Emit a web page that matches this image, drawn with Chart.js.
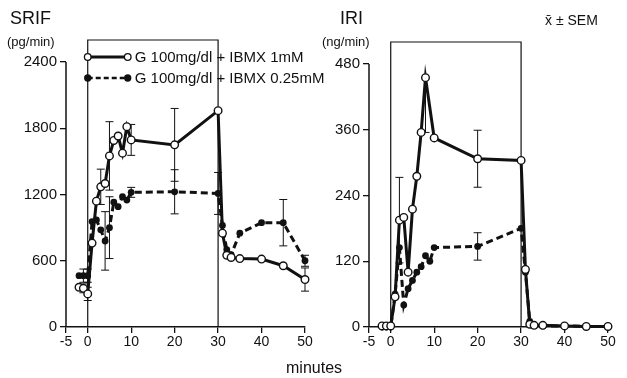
<!DOCTYPE html>
<html>
<head>
<meta charset="utf-8">
<script src="https://cdn.jsdelivr.net/npm/chart.js@4"></script>
<style>
  body { margin: 0; background: #fff; width: 627px; height: 378px; position: relative; overflow: hidden; font-family: "Liberation Sans", Arial, sans-serif; color: #111; }
  canvas { position: absolute; top: 0; }
  .lbl { position: absolute; white-space: nowrap; }
</style>
</head>
<body>
<canvas id="iriChart" width="315" height="378" style="left:312px"></canvas>
<canvas id="srifChart" width="340" height="378" style="left:0"></canvas>
<div class="lbl" style="left:10px;top:8px;font-size:18px">SRIF</div>
<div class="lbl" style="left:7px;top:34px;font-size:13px">(pg/min)</div>
<div class="lbl" style="left:340px;top:8px;font-size:18px">IRI</div>
<div class="lbl" style="left:322px;top:34px;font-size:13px">(ng/min)</div>
<div class="lbl" style="left:545px;top:12px;font-size:14px">x̄ ± SEM</div>
<div class="lbl" style="left:286px;top:359px;font-size:16px">minutes</div>
<script>
// x axis (minutes)
const xTicks = [-5, 0, 10, 20, 30, 40, 50];
const boxMinutes = [0, 30];

// SRIF (pg/min)
const srifTicks = [0, 600, 1200, 1800, 2400];
const srifTimes = [-2, -1, 0, 1, 2, 3, 4, 5, 6, 7, 8, 9, 10, 20, 30, 31, 32, 33, 35, 40, 45, 50];
const srifOpen = [360, 350, 300, 760, 1140, 1270, 1300, 1550, 1690, 1730, 1575, 1815, 1695, 1650, 1960, 850, 650, 630, 620, 615, 555, 430];
const srifOpenErr = [0, 40, 60, 0, 0, 160, 0, 310, 0, 0, 0, 0, 140, 330, 0, 0, 0, 0, 0, 0, 0, 105];
const srifFilled = [465, 465, 465, 955, 970, 880, 780, 900, 1130, 1090, 1180, 1150, 1220, 1225, 1210, 920, 700, 655, 850, 945, 945, 600];
const srifFilledErr = [0, 60, 60, 0, 0, 0, 265, 280, 0, 0, 0, 0, 45, 200, 190, 0, 0, 0, 0, 0, 210, 50];

// IRI (ng/min)
const iriTicks = [0, 120, 240, 360, 480];
const iriOpenTimes = [-2, -1, 0, 1, 2, 3, 4, 5, 6, 7, 8, 10, 20, 30, 31, 32, 33, 35, 40, 45, 50];
const iriOpen = [2, 2, 2, 55, 195, 200, 100, 215, 275, 355, 455, 345, 307, 304, 105, 5, 3, 3, 2, 1, 1];
const iriOpenErrHigh = [0, 0, 0, 0, 78, 0, 0, 0, 0, 0, 0, 0, 52, 0, 0, 0, 0, 0, 0, 0, 0];
const iriOpenErrLow = [0, 0, 0, 0, 78, 0, 0, 0, 0, 0, 100, 0, 52, 0, 0, 0, 0, 0, 0, 0, 0];
const iriFilledTimes = [-2, -1, 0, 1, 2, 3, 4, 5, 6, 7, 8, 9, 10, 20, 30, 31, 32, 33, 35, 40, 45, 50];
const iriFilled = [0, 0, 0, 60, 145, 40, 70, 85, 100, 110, 130, 120, 145, 147, 180, 100, 10, 3, 2, 2, 1, 1];
const iriFilledErr = [0, 0, 0, 0, 0, 0, 0, 0, 0, 0, 0, 0, 0, 25, 0, 0, 0, 0, 0, 0, 0, 0];

const legendLabels = ["G 100mg/dl + IBMX 1mM", "G 100mg/dl + IBMX 0.25mM"];

const INK = "#111";

function pts(times, vals) {
  return times.map((t, i) => ({ x: t, y: vals[i] }));
}

function openSeries(times, vals, errHigh, errLow) {
  return {
    data: pts(times, vals),
    errHigh,
    errLow: errLow || errHigh,
    showLine: true,
    borderColor: INK,
    borderWidth: 3,
    pointRadius: 3.8,
    pointBackgroundColor: "#fff",
    pointBorderColor: INK,
    pointBorderWidth: 1.4,
    clip: false,
    order: 1,
  };
}

function filledSeries(times, vals, errs) {
  return {
    data: pts(times, vals),
    errHigh: errs,
    errLow: errs,
    showLine: true,
    borderColor: INK,
    borderWidth: 3,
    borderDash: [7, 4],
    pointRadius: 3.4,
    pointBackgroundColor: INK,
    pointBorderColor: INK,
    pointBorderWidth: 0,
    clip: false,
    order: 2,
  };
}

const decorPlugin = {
  id: "decor",
  beforeDatasetsDraw(chart, args, opts) {
    const { ctx, scales: { x, y } } = chart;
    ctx.save();
    ctx.strokeStyle = INK;
    // y axis line up to the top tick
    ctx.lineWidth = 1.5;
    ctx.beginPath();
    ctx.moveTo(x.left, y.getPixelForValue(0));
    ctx.lineTo(x.left, y.getPixelForValue(opts.topTick));
    ctx.stroke();
    // stimulation box
    const x0 = x.getPixelForValue(boxMinutes[0]);
    const x1 = x.getPixelForValue(boxMinutes[1]);
    ctx.lineWidth = 1.2;
    ctx.beginPath();
    ctx.moveTo(x0, y.getPixelForValue(0));
    ctx.lineTo(x0, y.top);
    ctx.lineTo(x1, y.top);
    ctx.lineTo(x1, y.getPixelForValue(0));
    ctx.stroke();
    // error bars
    ctx.lineWidth = 1;
    chart.data.datasets.forEach((ds) => {
      if (!ds.errHigh) return;
      ds.data.forEach((p, i) => {
        const hi = ds.errHigh[i];
        const lo = ds.errLow[i];
        if (!hi && !lo) return;
        const px = x.getPixelForValue(p.x);
        const top = y.getPixelForValue(p.y + hi);
        const bot = y.getPixelForValue(Math.max(0, p.y - lo));
        ctx.beginPath();
        ctx.moveTo(px, top);
        ctx.lineTo(px, bot);
        if (hi) { ctx.moveTo(px - 4, top); ctx.lineTo(px + 4, top); }
        if (lo) { ctx.moveTo(px - 4, bot); ctx.lineTo(px + 4, bot); }
        ctx.stroke();
      });
    });
    ctx.restore();
  },
  afterDatasetsDraw(chart, args, opts) {
    if (!opts.legend) return;
    const { ctx, scales: { x } } = chart;
    ctx.save();
    const x0 = x.getPixelForValue(0);
    const x1 = x0 + 40;
    const rows = [57, 78];
    rows.forEach((yy, i) => {
      ctx.strokeStyle = INK;
      ctx.lineWidth = i === 0 ? 3 : 2.5;
      ctx.setLineDash(i === 0 ? [] : [5, 3]);
      ctx.beginPath();
      ctx.moveTo(x0, yy);
      ctx.lineTo(x1, yy);
      ctx.stroke();
      ctx.setLineDash([]);
      [x0, x1].forEach((cx) => {
        ctx.beginPath();
        ctx.arc(cx, yy, i === 0 ? 3.3 : 3, 0, Math.PI * 2);
        ctx.fillStyle = i === 0 ? "#fff" : INK;
        ctx.fill();
        ctx.lineWidth = 1.3;
        ctx.stroke();
      });
      ctx.fillStyle = INK;
      ctx.font = "15px 'Liberation Sans', Arial, sans-serif";
      ctx.textBaseline = "middle";
      ctx.fillText(legendLabels[i], x1 + 7, yy + 1);
    });
    ctx.restore();
  },
};

function buildPanel(elId, datasets, yMax, yTickVals, yWidth, padTop, padRight, withLegend) {
  const tickFont = { family: "'Liberation Sans', Arial, sans-serif", size: 14 };
  return new Chart(document.getElementById(elId), {
    type: "scatter",
    data: { datasets },
    plugins: [decorPlugin],
    options: {
      responsive: false,
      animation: false,
      devicePixelRatio: 1,
      layout: { padding: { top: padTop, right: padRight, left: 0, bottom: 0 } },
      plugins: {
        legend: { display: false },
        tooltip: { enabled: false },
        decor: { topTick: yTickVals[yTickVals.length - 1], legend: withLegend },
      },
      scales: {
        x: {
          type: "linear",
          min: -5,
          max: 50,
          afterBuildTicks: (s) => { s.ticks = xTicks.map((v) => ({ value: v })); },
          afterFit: (s) => { s.height = 51; },
          grid: { drawOnChartArea: false, drawTicks: true, tickLength: 6, color: INK, lineWidth: 1.3 },
          border: { display: true, color: INK, width: 1.5 },
          ticks: { color: INK, font: tickFont, padding: 1, maxRotation: 0, callback: (v) => String(v) },
        },
        y: {
          type: "linear",
          min: 0,
          max: yMax,
          afterBuildTicks: (s) => { s.ticks = yTickVals.map((v) => ({ value: v })); },
          afterFit: (s) => { s.width = yWidth; },
          grid: { drawOnChartArea: false, drawTicks: true, tickLength: 6, color: INK, lineWidth: 1.3 },
          border: { display: false },
          ticks: { color: INK, font: { ...tickFont, size: 15 }, padding: 3, callback: (v) => String(v) },
        },
      },
    },
  });
}

buildPanel(
  "srifChart",
  [
    filledSeries(srifTimes, srifFilled, srifFilledErr),
    openSeries(srifTimes, srifOpen, srifOpenErr),
  ],
  2600, srifTicks, 66, 40, 35, true
);

buildPanel(
  "iriChart",
  [
    filledSeries(iriFilledTimes, iriFilled, iriFilledErr),
    openSeries(iriOpenTimes, iriOpen, iriOpenErrHigh, iriOpenErrLow),
  ],
  520, iriTicks, 57, 42, 19, false
);
</script>
</body>
</html>
